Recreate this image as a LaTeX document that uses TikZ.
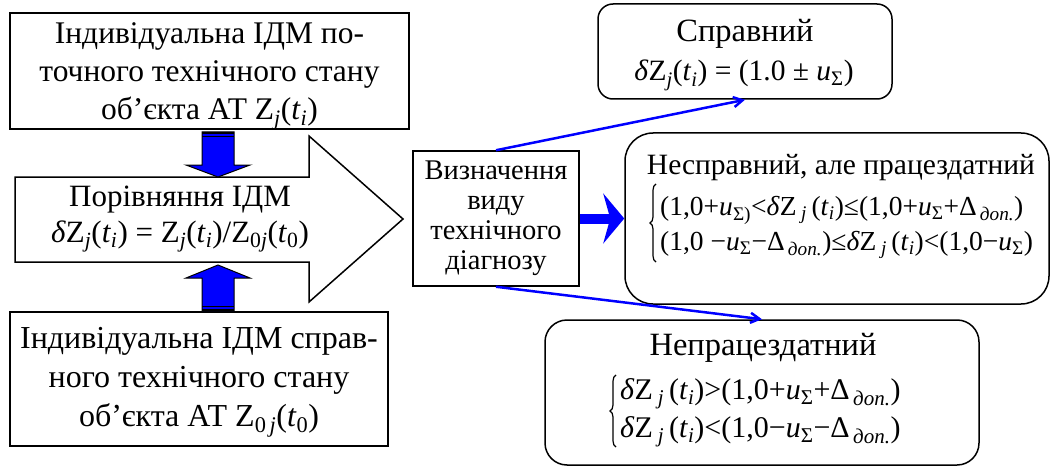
\documentclass[tikz,border=0pt]{standalone}
\usepackage{fontspec}
\setmainfont{Liberation Serif}[Ligatures=TeX]
\usetikzlibrary{arrows.meta,decorations.pathreplacing}
\newcommand\sbs[1]{\textsubscript{#1}}
\newcommand\tii{\textit{t}\sbs{\textit{i}}}
\newcommand\dZj{\textit{δ}Z\sbs{\textit{j}}}
\newcommand\dZjs{\textit{δ}Z\,\sbs{\textit{j}}\,}
\newcommand\usig{\textit{u}\sbs{Σ}}
\newcommand\dop{Δ\sbs{\,\textit{доп.}}}
\newcommand\fs[2]{\fontsize{#1}{#2}\selectfont}
\begin{document}
\begin{tikzpicture}[x=1pt,y=-1pt,
  box/.style={draw,line width=1.5pt,inner sep=0pt,align=center},
  rbox/.style={draw,line width=1.5pt,inner sep=0pt,align=center,rounded corners=#1},
  txt/.style={inner sep=0pt,align=center},
  blk/.style={draw=black,fill=blue,line width=1pt},
  bluearr/.style={draw=blue,line width=2.5pt,-{Straight Barb[length=9pt,width=10pt]}},
  curly/.style={line width=1.2pt,decorate,decoration={brace,amplitude=6pt}},
]
\useasboundingbox (0,0) rectangle (1052,468);
% left boxes
\node[box,minimum width=399,minimum height=116] (cur) at (209.5,71) {};
\node[txt,font=\fs{31.5}{38}] (curtext) at (209.5,76)
  {Індивідуальна ІДМ по-\\точного технічного стану\\об’єкта АТ Z\sbs{\textit{j}}(\tii)};
\node[box,minimum width=378,minimum height=134] (ref) at (199,379) {};
\node[txt,font=\fs{32}{39}] (reftext) at (199,382)
  {Індивідуальна ІДМ справ-\\ного технічного стану\\об’єкта АТ Z\sbs{0\,\textit{j}}(\textit{t}\sbs{0})};
% big arrow
\draw[line width=1.5pt,fill=white] (15,177) -- (309,177) -- (309,136) -- (403,219) -- (309,302) -- (309,262) -- (15,262) -- cycle;
\node[txt,font=\fs{31}{36}] (cmp) at (180,219)
  {Порівняння ІДМ\\\dZj(\tii) = Z\sbs{\textit{j}}(\tii)/Z\sbs{0\textit{j}}(\textit{t}\sbs{0})};
% block arrows
\draw[blk] (202,132) -- (234,132) -- (234,165) -- (250,165) -- (218,177) -- (186,165) -- (202,165) -- cycle;
\draw[line width=1.5pt] (202,133) -- (234,133);
\draw[line width=1.2pt] (202,136.5) -- (234,136.5);
\draw[blk] (202,311) -- (234,311) -- (234,278) -- (250,278) -- (218,265) -- (186,278) -- (202,278) -- cycle;
\draw[line width=1.5pt] (202,310) -- (234,310);
\draw[line width=1.2pt] (202,306.5) -- (234,306.5);
% diagnosis box
\node[box,font=\fs{28.5}{30},minimum width=166,minimum height=135] (diag) at (496,218.5)
  {Визначення\\виду\\технічного\\діагнозу};
% result boxes
\node[rbox=15pt,minimum width=294,minimum height=95] (ok) at (745,51.5) {};
\node[txt,anchor=base,font=\fs{32.5}{40}] (okhead) at (745,42) {Справний};
\node[txt,anchor=base,font=\fs{29.5}{40}] (okform) at (744,81) {\dZj(\tii) = (1.0 ± \usig)};
\node[rbox=28pt,minimum width=424,minimum height=171] (semi) at (837,218.5) {};
\node[txt,anchor=base,font=\fs{29.5}{34}] (semihead) at (841,175) {Несправний, але працездатний};
\node[txt,anchor=west,font=\fs{27.5}{35}] (semiform) at (660,226)
  {\begin{tabular}{@{}l@{}}
   (1,0+\textit{u}\sbs{Σ)}<\dZjs(\tii)≤(1,0+\usig+\dop)\\
   (1,0 −\usig−\dop)≤\dZjs(\tii)<(1,0−\usig)
   \end{tabular}};
\draw[curly] ([xshift=-4pt]semiform.west |- 0,262) -- ([xshift=-4pt]semiform.west |- 0,184);
\node[rbox=22pt,minimum width=434,minimum height=145] (bad) at (762,392.5) {};
\node[txt,anchor=base,font=\fs{32.5}{38}] (badhead) at (763,355) {Непрацездатний};
\node[txt,anchor=west,font=\fs{30}{38}] (badform) at (620,411)
  {\begin{tabular}{@{}l@{}}
   \dZjs(\tii)>(1,0+\usig+\dop)\\
   \dZjs(\tii)<(1,0−\usig−\dop)
   \end{tabular}};
\draw[curly] ([xshift=-4pt]badform.west |- 0,447) -- ([xshift=-4pt]badform.west |- 0,375);
% connectors
\draw[bluearr] (diag.north) -- (ok.south);
\draw[bluearr] (diag.south) -- (bad.north);
\draw[blue,line width=10pt,-{Stealth[length=21pt,width=50pt,inset=7pt]}] (diag.east) -- (semi.west);
\end{tikzpicture}
\end{document}
